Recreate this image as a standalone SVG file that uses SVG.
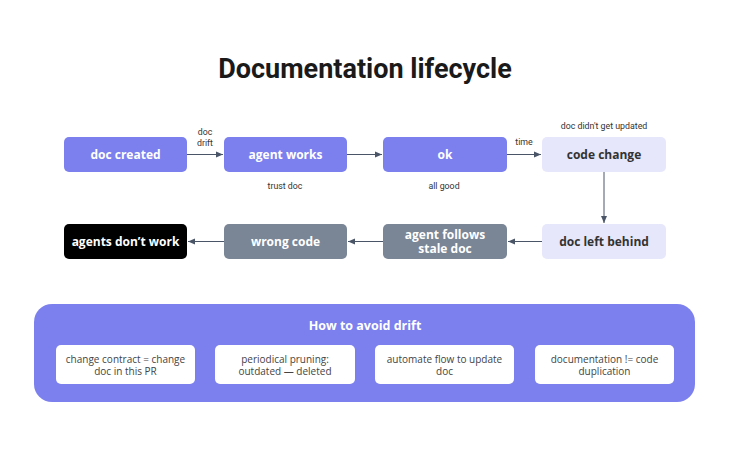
<svg xmlns="http://www.w3.org/2000/svg" width="730" height="455" viewBox="0 0 730 455">
<defs>
<marker id="ah" markerWidth="8" markerHeight="8" refX="7" refY="4" orient="auto" markerUnits="userSpaceOnUse"><path d="M0,1 L7,4 L0,7 Z" fill="#4a5568"/></marker>
<style>
.n{font-family:"Open Sans",sans-serif;font-weight:bold;font-size:12px;text-anchor:middle}
.lb{font-family:Roboto,"Noto Sans",sans-serif;font-size:8.8px;fill:#333;text-anchor:middle}
.e{stroke:#4a5568;stroke-width:1;fill:none;marker-end:url(#ah)}
.tt{font-family:"Open Sans",sans-serif;font-size:10px;fill:#444;text-anchor:middle}
</style>
</defs>
<rect width="730" height="455" fill="#fff"/>
<text x="365" y="78" text-anchor="middle" font-family="Roboto,sans-serif" font-weight="bold" font-size="27" fill="#1a1a1a">Documentation lifecycle</text>
<g id="connectors">
<path class="e" d="M187,154.5 H223"/>
<path class="e" d="M347,154.5 H382"/>
<path class="e" d="M507,154.5 H541"/>
<path class="e" d="M604,172 V223"/>
<path class="e" d="M542,241.5 H508"/>
<path class="e" d="M383,241.5 H348"/>
<path class="e" d="M224,241.5 H188"/>
<text class="lb" x="205" y="135">doc<tspan x="205" dy="11">drift</tspan></text>
<text class="lb" x="524" y="145">time</text>
</g>
<g id="doc-created"><rect x="64" y="137" width="123" height="35" rx="5" fill="#7b80ee"/><text class="n" x="125.5" y="158.5" fill="#fff">doc created</text></g>
<g id="agent-works"><rect x="224" y="137" width="123" height="35" rx="5" fill="#7b80ee"/><text class="n" x="285.5" y="158.5" fill="#fff">agent works</text><text class="lb" x="285" y="189">trust doc</text></g>
<g id="ok"><rect x="383" y="137" width="124" height="35" rx="5" fill="#7b80ee"/><text class="n" x="445" y="158.5" fill="#fff">ok</text><text class="lb" x="444" y="189">all good</text></g>
<g id="code-change"><rect x="542" y="137" width="124" height="35" rx="5" fill="#e6e7fa"/><text class="n" x="604" y="158.5" fill="#333">code change</text><text class="lb" x="604" y="129">doc didn't get updated</text></g>
<g id="doc-left-behind"><rect x="542" y="224" width="124" height="35" rx="5" fill="#e6e7fa"/><text class="n" x="604" y="245.5" fill="#333">doc left behind</text></g>
<g id="agent-follows"><rect x="383" y="224" width="124" height="35" rx="5" fill="#7a8595"/><text class="n" x="445" y="238.5" fill="#fff">agent follows<tspan x="445" dy="14">stale doc</tspan></text></g>
<g id="wrong-code"><rect x="224" y="224" width="123" height="35" rx="5" fill="#7a8595"/><text class="n" x="285.5" y="245.5" fill="#fff">wrong code</text></g>
<g id="agents-dont-work"><rect x="64" y="224" width="123" height="35" rx="5" fill="#000"/><text class="n" x="125.5" y="245.5" fill="#fff">agents don’t work</text></g>
<g id="avoid-drift">
<rect x="34" y="304" width="661" height="98" rx="18" fill="#7b80ee"/>
<text class="n" x="365" y="330" fill="#fff" style="font-size:12.5px">How to avoid drift</text>
<rect x="56" y="345" width="139" height="39" rx="5" fill="#fff"/>
<text class="tt" x="125.5" y="362.5">change contract = change<tspan x="125.5" dy="12">doc in this PR</tspan></text>
<rect x="215" y="345" width="140" height="39" rx="5" fill="#fff"/>
<text class="tt" x="285" y="362.5">periodical pruning:<tspan x="285" dy="12">outdated — deleted</tspan></text>
<rect x="375" y="345" width="139" height="39" rx="5" fill="#fff"/>
<text class="tt" x="444.5" y="362.5">automate flow to update<tspan x="444.5" dy="12">doc</tspan></text>
<rect x="535" y="345" width="139" height="39" rx="5" fill="#fff"/>
<text class="tt" x="604.5" y="362.5">documentation != code<tspan x="604.5" dy="12">duplication</tspan></text>
</g>
</svg>
